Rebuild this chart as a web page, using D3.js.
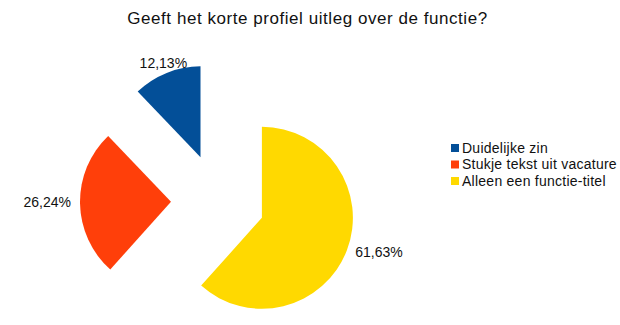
<!DOCTYPE html>
<html>
<head>
<meta charset="utf-8">
<script src="https://cdn.jsdelivr.net/npm/d3@7"></script>
<style>
  html, body { margin: 0; padding: 0; background: #fff; }
  svg text { font-family: "Liberation Sans", Arial, sans-serif; fill: #111; }
</style>
</head>
<body>
<svg id="chart" width="620" height="325"></svg>
<script>
const title = "Geeft het korte profiel uitleg over de functie?";
const categories = ["Duidelijke zin", "Stukje tekst uit vacature", "Alleen een functie-titel"];
const values = [12.13, 26.24, 61.63];
const valueLabels = ["12,13%", "26,24%", "61,63%"];
const colors = ["#034f98", "#ff3f0a", "#ffd900"];

const svg = d3.select("#chart");
const cx = 218, cy = 201, r = 91, explode = 47, labelR = 100;

svg.append("text")
  .attr("x", 307.5).attr("y", 24)
  .attr("text-anchor", "middle")
  .attr("font-size", 17)
  .attr("letter-spacing", 0.55)
  .text(title);

// slices go counterclockwise from 12 o'clock
const pie = d3.pie().sort(null).value(d => d)
  .startAngle(2 * Math.PI).endAngle(0);
const arcs = pie(values);
const arc = d3.arc().innerRadius(0).outerRadius(r);

const g = svg.append("g").attr("transform", `translate(${cx},${cy})`);

arcs.forEach((a, i) => {
  const mid = (a.startAngle + a.endAngle) / 2;
  const dx = Math.sin(mid) * explode, dy = -Math.cos(mid) * explode;
  const sg = g.append("g").attr("transform", `translate(${dx},${dy})`);
  sg.append("path").attr("d", arc(a)).attr("fill", colors[i]);
  const lx = Math.sin(mid) * labelR, ly = -Math.cos(mid) * labelR;
  const s = Math.sin(mid);
  sg.append("text")
    .attr("x", lx).attr("y", ly)
    .attr("dy", "0.25em")
    .attr("font-size", 14)
    .attr("text-anchor", Math.abs(s) < 0.5 ? "middle" : (s > 0 ? "start" : "end"))
    .text(valueLabels[i]);
});

// legend
const lg = svg.append("g").attr("transform", "translate(451,144)");
categories.forEach((c, i) => {
  const row = lg.append("g").attr("transform", `translate(0,${i * 16.5})`);
  row.append("rect").attr("width", 8).attr("height", 8).attr("fill", colors[i]);
  row.append("text").attr("x", 11).attr("y", 8.5).attr("font-size", 14)
    .attr("letter-spacing", 0.25).text(c);
});
</script>
</body>
</html>
